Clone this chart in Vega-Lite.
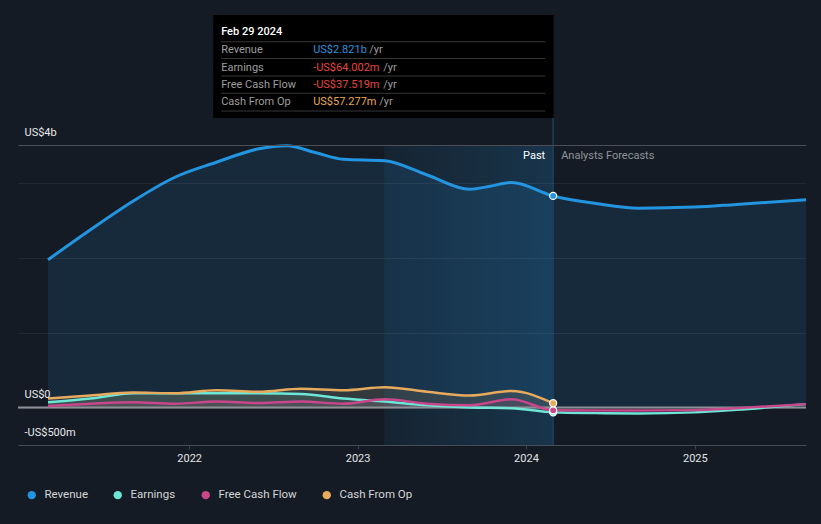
{
"$schema":"https://vega.github.io/schema/vega-lite/v6.json",
"width":788,"height":431,
"padding":{"left":17,"top":14,"right":16,"bottom":15},
"background":"#151b24",
"config":{"view":{"stroke":null},"font":"Roboto","text":{"font":"Roboto"}},
"datasets":{
"series":[
{"date":"2021-03-01","series":"Revenue","value":1.97,"phase":"past"},
{"date":"2021-06-01","series":"Revenue","value":2.37,"phase":"past"},
{"date":"2021-09-01","series":"Revenue","value":2.75,"phase":"past"},
{"date":"2021-12-01","series":"Revenue","value":3.07,"phase":"past"},
{"date":"2022-03-01","series":"Revenue","value":3.27,"phase":"past"},
{"date":"2022-06-01","series":"Revenue","value":3.45,"phase":"past"},
{"date":"2022-08-01","series":"Revenue","value":3.49,"phase":"past"},
{"date":"2022-10-01","series":"Revenue","value":3.40,"phase":"past"},
{"date":"2022-12-01","series":"Revenue","value":3.31,"phase":"past"},
{"date":"2023-03-01","series":"Revenue","value":3.29,"phase":"past"},
{"date":"2023-06-01","series":"Revenue","value":3.10,"phase":"past"},
{"date":"2023-09-01","series":"Revenue","value":2.91,"phase":"past"},
{"date":"2023-10-15","series":"Revenue","value":2.95,"phase":"past"},
{"date":"2023-12-01","series":"Revenue","value":3.0,"phase":"past"},
{"date":"2024-02-29","series":"Revenue","value":2.821,"phase":"past"},
{"date":"2024-06-01","series":"Revenue","value":2.72,"phase":"forecast"},
{"date":"2024-09-01","series":"Revenue","value":2.657,"phase":"forecast"},
{"date":"2024-12-31","series":"Revenue","value":2.672,"phase":"forecast"},
{"date":"2025-04-01","series":"Revenue","value":2.708,"phase":"forecast"},
{"date":"2025-08-30","series":"Revenue","value":2.77,"phase":"forecast"},
{"date":"2021-03-01","series":"Earnings","value":0.07,"phase":"past"},
{"date":"2021-06-01","series":"Earnings","value":0.12,"phase":"past"},
{"date":"2021-09-01","series":"Earnings","value":0.19,"phase":"past"},
{"date":"2021-12-01","series":"Earnings","value":0.19,"phase":"past"},
{"date":"2022-03-01","series":"Earnings","value":0.19,"phase":"past"},
{"date":"2022-06-01","series":"Earnings","value":0.19,"phase":"past"},
{"date":"2022-09-01","series":"Earnings","value":0.18,"phase":"past"},
{"date":"2022-12-01","series":"Earnings","value":0.12,"phase":"past"},
{"date":"2023-03-01","series":"Earnings","value":0.08,"phase":"past"},
{"date":"2023-06-01","series":"Earnings","value":0.03,"phase":"past"},
{"date":"2023-09-01","series":"Earnings","value":0.0,"phase":"past"},
{"date":"2023-12-01","series":"Earnings","value":-0.01,"phase":"past"},
{"date":"2024-02-29","series":"Earnings","value":-0.064,"phase":"past"},
{"date":"2024-06-01","series":"Earnings","value":-0.075,"phase":"forecast"},
{"date":"2024-09-01","series":"Earnings","value":-0.08,"phase":"forecast"},
{"date":"2024-12-31","series":"Earnings","value":-0.065,"phase":"forecast"},
{"date":"2025-04-01","series":"Earnings","value":-0.03,"phase":"forecast"},
{"date":"2025-08-30","series":"Earnings","value":0.045,"phase":"forecast"},
{"date":"2021-03-01","series":"Free Cash Flow","value":0.02,"phase":"past"},
{"date":"2021-06-01","series":"Free Cash Flow","value":0.05,"phase":"past"},
{"date":"2021-09-01","series":"Free Cash Flow","value":0.07,"phase":"past"},
{"date":"2021-12-01","series":"Free Cash Flow","value":0.05,"phase":"past"},
{"date":"2022-03-01","series":"Free Cash Flow","value":0.08,"phase":"past"},
{"date":"2022-06-01","series":"Free Cash Flow","value":0.06,"phase":"past"},
{"date":"2022-09-01","series":"Free Cash Flow","value":0.08,"phase":"past"},
{"date":"2022-12-01","series":"Free Cash Flow","value":0.05,"phase":"past"},
{"date":"2023-03-01","series":"Free Cash Flow","value":0.11,"phase":"past"},
{"date":"2023-06-01","series":"Free Cash Flow","value":0.05,"phase":"past"},
{"date":"2023-09-01","series":"Free Cash Flow","value":0.03,"phase":"past"},
{"date":"2023-12-01","series":"Free Cash Flow","value":0.11,"phase":"past"},
{"date":"2024-02-29","series":"Free Cash Flow","value":-0.0375,"phase":"past"},
{"date":"2024-06-01","series":"Free Cash Flow","value":-0.04,"phase":"forecast"},
{"date":"2024-09-01","series":"Free Cash Flow","value":-0.04,"phase":"forecast"},
{"date":"2024-12-31","series":"Free Cash Flow","value":-0.035,"phase":"forecast"},
{"date":"2025-04-01","series":"Free Cash Flow","value":-0.01,"phase":"forecast"},
{"date":"2025-08-30","series":"Free Cash Flow","value":0.045,"phase":"forecast"},
{"date":"2021-03-01","series":"Cash From Op","value":0.12,"phase":"past"},
{"date":"2021-06-01","series":"Cash From Op","value":0.16,"phase":"past"},
{"date":"2021-09-01","series":"Cash From Op","value":0.20,"phase":"past"},
{"date":"2021-12-01","series":"Cash From Op","value":0.19,"phase":"past"},
{"date":"2022-03-01","series":"Cash From Op","value":0.23,"phase":"past"},
{"date":"2022-06-01","series":"Cash From Op","value":0.21,"phase":"past"},
{"date":"2022-09-01","series":"Cash From Op","value":0.25,"phase":"past"},
{"date":"2022-12-01","series":"Cash From Op","value":0.23,"phase":"past"},
{"date":"2023-03-01","series":"Cash From Op","value":0.27,"phase":"past"},
{"date":"2023-06-01","series":"Cash From Op","value":0.21,"phase":"past"},
{"date":"2023-09-01","series":"Cash From Op","value":0.16,"phase":"past"},
{"date":"2023-12-01","series":"Cash From Op","value":0.22,"phase":"past"},
{"date":"2024-02-29","series":"Cash From Op","value":0.057,"phase":"past"}
],
"now":[
{"series":"Revenue","date":"2024-02-29","value":2.821,"label":"US$2.821b"},
{"series":"Earnings","date":"2024-02-29","value":-0.064002,"label":"-US$64.002m"},
{"series":"Free Cash Flow","date":"2024-02-29","value":-0.037519,"label":"-US$37.519m"},
{"series":"Cash From Op","date":"2024-02-29","value":0.057277,"label":"US$57.277m"}
]
},
"layer":[
{"data":{"values":[{}]},
 "mark":{"type":"rect","fill":{"gradient":"linear","x1":0,"y1":0,"x2":1,"y2":0,"stops":[{"offset":0,"color":"rgba(35,148,223,0.07)"},{"offset":1,"color":"rgba(35,148,223,0.21)"}]}},
 "encoding":{"x":{"datum":{"year":2023,"month":2,"date":28},"type":"temporal"},"x2":{"datum":{"year":2024,"month":2,"date":29}},"y":{"datum":-0.5,"type":"quantitative"},"y2":{"datum":3.5}}},
{"data":{"name":"series"},"transform":[{"filter":"datum.series === 'Revenue'"}],
 "mark":{"type":"area","interpolate":"monotone","opacity":0.13},
 "encoding":{
  "x":{"field":"date","type":"temporal","scale":{"domain":[{"year":2020,"month":12,"date":26},{"year":2025,"month":8,"date":30}]},
   "axis":{"title":null,"values":[{"year":2022,"month":1,"date":1},{"year":2023,"month":1,"date":1},{"year":2024,"month":1,"date":1},{"year":2025,"month":1,"date":1}],"format":"%Y","grid":false,"labelColor":"#e2e4e7","labelFontSize":11,"labelFont":"Roboto","domainColor":"#3b414a","tickColor":"#3b414a","tickSize":4,"labelPadding":3,"labelFlush":false}},
  "y":{"field":"value","type":"quantitative","stack":null,"scale":{"domain":[-0.5,5.2467],"nice":false,"zero":false},
   "axis":{"title":null,"values":[-0.5,0,1,2,3,3.5],"labelExpr":"datum.value == 3.5 ? 'US$4b' : datum.value == 0 ? 'US$0' : datum.value == -0.5 ? '-US$500m' : ''","grid":true,"gridColor":{"condition":{"test":"datum.value == 3.5","value":"#4a4f57"},"value":"#ffffff"},"gridOpacity":{"condition":{"test":"datum.value == 3.5","value":1},"value":0.06},"zindex":1,"domain":false,"ticks":false,"tickSize":0,"labelAlign":"left","labelPadding":-6,"labelBaseline":"bottom","labelOffset":-8,"labelColor":"#e6e8eb","labelFontSize":11,"labelFont":"Roboto","labelOverlap":false,"labelFlush":false}},
  "y2":{"datum":0},
  "fill":{"field":"series","type":"nominal","scale":{"domain":["Cash From Op","Free Cash Flow","Earnings","Revenue"],"range":["#e8aa5c","#c8468a","#6ee6d6","#2394df"]},"legend":null}}},
{"data":{"name":"series"},"transform":[{"filter":"datum.series !== 'Revenue' && datum.phase === 'past'"}],
 "mark":{"type":"area","interpolate":"monotone","opacity":0.13},
 "encoding":{"x":{"field":"date","type":"temporal"},"y":{"field":"value","type":"quantitative","stack":null},"y2":{"datum":0},
  "fill":{"field":"series","type":"nominal","legend":null}}},
{"data":{"values":[{}]},"mark":{"type":"rule","color":"#8d9096","strokeWidth":2},"encoding":{"y":{"datum":0,"type":"quantitative"}}},
{"data":{"name":"series"},"transform":[{"filter":"datum.series !== 'Revenue'"}],
 "mark":{"type":"line","interpolate":"monotone","strokeWidth":2.5},
 "encoding":{"x":{"field":"date","type":"temporal"},"y":{"field":"value","type":"quantitative"},
  "stroke":{"field":"series","type":"nominal","scale":{"domain":["Earnings","Free Cash Flow","Cash From Op","Revenue"],"range":["#6ee6d6","#c8468a","#e8aa5c","#2394df"]},"legend":null}}},
{"data":{"name":"series"},"transform":[{"filter":"datum.series === 'Revenue'"}],
 "mark":{"type":"line","interpolate":"monotone","strokeWidth":3},
 "encoding":{"x":{"field":"date","type":"temporal"},"y":{"field":"value","type":"quantitative"},
  "stroke":{"field":"series","type":"nominal","legend":null}}},
{"data":{"values":[{}]},"mark":{"type":"rule","color":"#1d3f5e","strokeWidth":1.5},
 "encoding":{"x":{"datum":{"year":2024,"month":2,"date":29},"type":"temporal"},"y":{"datum":3.86,"type":"quantitative"},"y2":{"datum":-0.5}}},
{"data":{"name":"now"},
 "mark":{"type":"point","filled":true,"size":50,"stroke":"#ffffff","strokeWidth":1.2,"opacity":1},
 "encoding":{"x":{"field":"date","type":"temporal"},"y":{"field":"value","type":"quantitative"},
  "color":{"field":"series","type":"nominal","scale":{"domain":["Revenue","Earnings","Free Cash Flow","Cash From Op"],"range":["#2394df","#6ee6d6","#c8468a","#e8aa5c"]},
   "legend":{"title":null,"orient":"bottom","direction":"horizontal","symbolType":"circle","symbolSize":70,"symbolStrokeWidth":0,"symbolOpacity":1,"labelColor":"#d3d5d8","labelFontSize":11.5,"labelFont":"Roboto","columnPadding":24,"labelOffset":7,"padding":8,"offset":18}}}},
{"data":{"values":[{}]},"mark":{"type":"rect","fill":"#000000"},
 "encoding":{"x":{"datum":{"year":2022,"month":2,"date":22},"type":"temporal"},"x2":{"datum":{"year":2024,"month":3,"date":1}},"y":{"datum":3.86,"type":"quantitative"},"y2":{"datum":5.233}}},
{"data":{"values":[{}]},
 "encoding":{"x":{"datum":{"year":2022,"month":3,"date":11},"type":"temporal"},"x2":{"datum":{"year":2024,"month":2,"date":12}}},
 "layer":[
  {"mark":{"type":"rule","color":"#363636","strokeWidth":1},"encoding":{"y":{"datum":4.877,"type":"quantitative"}}},
  {"mark":{"type":"rule","color":"#363636","strokeWidth":1},"encoding":{"y":{"datum":4.653,"type":"quantitative"}}},
  {"mark":{"type":"rule","color":"#363636","strokeWidth":1},"encoding":{"y":{"datum":4.42,"type":"quantitative"}}},
  {"mark":{"type":"rule","color":"#363636","strokeWidth":1},"encoding":{"y":{"datum":4.189,"type":"quantitative"}}},
  {"mark":{"type":"rule","color":"#363636","strokeWidth":1},"encoding":{"y":{"datum":3.953,"type":"quantitative"}}}
 ]},
{"data":{"values":[{}]},"mark":{"type":"text","text":"Feb 29 2024","align":"left","baseline":"middle","dx":8,"color":"#ffffff","fontSize":11,"fontWeight":500},
 "encoding":{"x":{"datum":{"year":2022,"month":2,"date":22},"type":"temporal"},"y":{"datum":5.007,"type":"quantitative"}}},
{"data":{"name":"now"},"transform":[{"filter":"datum.series === 'Revenue'"}],
 "encoding":{"x":{"datum":{"year":2022,"month":2,"date":22},"type":"temporal"},"y":{"datum":4.767,"type":"quantitative"}},
 "layer":[
  {"mark":{"type":"text","align":"left","baseline":"middle","dx":8,"color":"#9e9e9e","fontSize":11},"encoding":{"text":{"field":"series"}}},
  {"mark":{"type":"text","align":"left","baseline":"middle","dx":100,"color":"#2394df","fontSize":11},"encoding":{"text":{"field":"label"}}},
  {"mark":{"type":"text","text":"/yr","align":"left","baseline":"middle","dx":156,"color":"#9e9e9e","fontSize":11}}
 ]},
{"data":{"name":"now"},"transform":[{"filter":"datum.series === 'Earnings'"}],
 "encoding":{"x":{"datum":{"year":2022,"month":2,"date":22},"type":"temporal"},"y":{"datum":4.533,"type":"quantitative"}},
 "layer":[
  {"mark":{"type":"text","align":"left","baseline":"middle","dx":8,"color":"#9e9e9e","fontSize":11},"encoding":{"text":{"field":"series"}}},
  {"mark":{"type":"text","align":"left","baseline":"middle","dx":100,"color":"#e64545","fontSize":11},"encoding":{"text":{"field":"label"}}},
  {"mark":{"type":"text","text":"/yr","align":"left","baseline":"middle","dx":170,"color":"#9e9e9e","fontSize":11}}
 ]},
{"data":{"name":"now"},"transform":[{"filter":"datum.series === 'Free Cash Flow'"}],
 "encoding":{"x":{"datum":{"year":2022,"month":2,"date":22},"type":"temporal"},"y":{"datum":4.3,"type":"quantitative"}},
 "layer":[
  {"mark":{"type":"text","align":"left","baseline":"middle","dx":8,"color":"#9e9e9e","fontSize":11},"encoding":{"text":{"field":"series"}}},
  {"mark":{"type":"text","align":"left","baseline":"middle","dx":100,"color":"#e64545","fontSize":11},"encoding":{"text":{"field":"label"}}},
  {"mark":{"type":"text","text":"/yr","align":"left","baseline":"middle","dx":170,"color":"#9e9e9e","fontSize":11}}
 ]},
{"data":{"name":"now"},"transform":[{"filter":"datum.series === 'Cash From Op'"}],
 "encoding":{"x":{"datum":{"year":2022,"month":2,"date":22},"type":"temporal"},"y":{"datum":4.073,"type":"quantitative"}},
 "layer":[
  {"mark":{"type":"text","align":"left","baseline":"middle","dx":8,"color":"#9e9e9e","fontSize":11},"encoding":{"text":{"field":"series"}}},
  {"mark":{"type":"text","align":"left","baseline":"middle","dx":100,"color":"#e8aa5c","fontSize":11},"encoding":{"text":{"field":"label"}}},
  {"mark":{"type":"text","text":"/yr","align":"left","baseline":"middle","dx":166,"color":"#9e9e9e","fontSize":11}}
 ]},
{"data":{"values":[{}]},
 "encoding":{"x":{"datum":{"year":2024,"month":2,"date":29},"type":"temporal"},"y":{"datum":3.353,"type":"quantitative"}},
 "layer":[
  {"mark":{"type":"text","text":"Past","align":"right","baseline":"middle","dx":-8,"color":"#ffffff","fontSize":11}},
  {"mark":{"type":"text","text":"Analysts Forecasts","align":"left","baseline":"middle","dx":8,"color":"#8e939a","fontSize":11}}
 ]}
]
}
